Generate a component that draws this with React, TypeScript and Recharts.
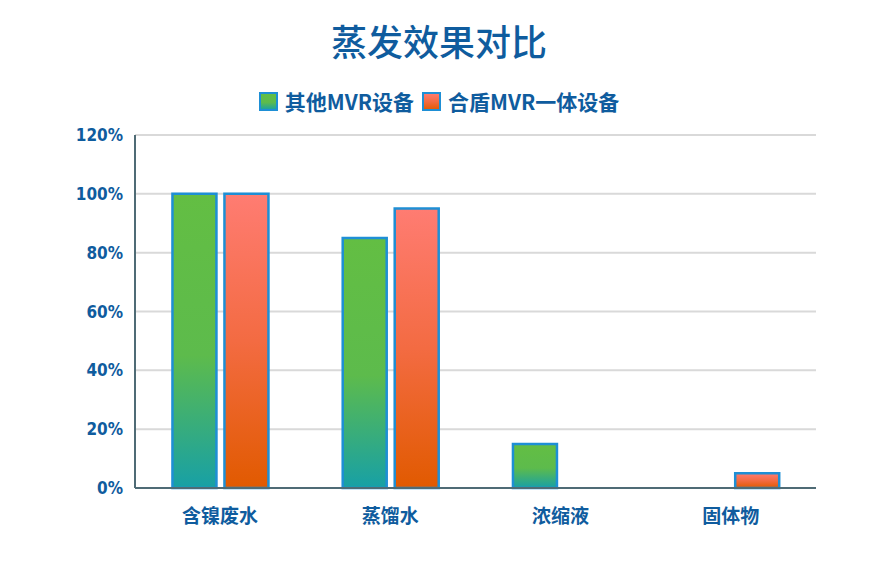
import { BarChart, Bar, XAxis, YAxis, CartesianGrid } from "recharts";

const categories = ["含镍废水", "蒸馏水", "浓缩液", "固体物"];
const otherMvr = [100, 85, 15, 0];
const hedunMvr = [100, 95, 0, 5];
const yTicks = [0, 20, 40, 60, 80, 100, 120];
const seriesNames = ["其他MVR设备", "合盾MVR一体设备"];

const BLUE_TEXT = "#0F5C9E";
const CJK = '"Noto Sans CJK SC", "Noto Sans", sans-serif';

const data = categories.map((c, i) => ({
  name: c,
  [seriesNames[0]]: otherMvr[i],
  [seriesNames[1]]: hedunMvr[i],
}));

// legend drawn by hand so the swatches get the same gradient + blue border
function ChartLegend() {
  const fills = ["url(#gGreen)", "url(#gOrange)"];
  return (
    <div
      style={{
        position: "absolute",
        top: 86,
        width: 878,
        display: "flex",
        justifyContent: "center",
        alignItems: "center",
        gap: 8,
      }}
    >
      {seriesNames.map((n, i) => (
        <div key={n} style={{ display: "flex", alignItems: "center" }}>
          <svg width={19} height={19} style={{ marginRight: 7 }}>
            <rect x={1} y={1} width={17} height={17} fill={fills[i]} stroke="#1E8FD5" strokeWidth={2} />
          </svg>
          <span style={{ fontFamily: CJK, fontWeight: 700, fontSize: 21, color: BLUE_TEXT }}>{n}</span>
        </div>
      ))}
    </div>
  );
}

export default function App() {
  return (
    <div style={{ position: "absolute", left: 0, top: 0, width: 878, height: 563, background: "#fff" }}>
      <div
        style={{
          position: "absolute",
          top: 14,
          width: 878,
          textAlign: "center",
          fontFamily: CJK,
          fontSize: 36,
          fontWeight: 500,
          color: BLUE_TEXT,
        }}
      >
        蒸发效果对比
      </div>
      <BarChart
        width={878}
        height={563}
        data={data}
        margin={{ top: 135, right: 62, left: 0, bottom: 45 }}
        barCategoryGap="22%"
        barGap={8}
      >
        <defs>
          <linearGradient id="gGreen" x1="0" y1="0" x2="0" y2="1">
            <stop offset="0" stopColor="#63BE43" />
            <stop offset="0.55" stopColor="#5DBB4C" />
            <stop offset="1" stopColor="#17A0A6" />
          </linearGradient>
          <linearGradient id="gOrange" x1="0" y1="0" x2="0" y2="1">
            <stop offset="0" stopColor="#FF7C72" />
            <stop offset="0.5" stopColor="#F36B42" />
            <stop offset="1" stopColor="#E15A00" />
          </linearGradient>
        </defs>
        <CartesianGrid vertical={false} stroke="#D9D9D9" strokeWidth={2} />
        <XAxis
          dataKey="name"
          height={30}
          axisLine={{ stroke: "#4F6B75", strokeWidth: 2 }}
          tickLine={false}
          tick={{ fill: BLUE_TEXT, fontSize: 19, fontWeight: 700, fontFamily: CJK }}
          dy={14}
        />
        <YAxis
          width={135}
          domain={[0, 120]}
          ticks={yTicks}
          tickFormatter={(v) => `${v}%`}
          axisLine={{ stroke: "#4F6B75", strokeWidth: 2 }}
          tickLine={false}
          tick={{ fill: BLUE_TEXT, fontSize: 17, fontWeight: 700, fontFamily: '"DejaVu Sans Condensed", "Liberation Sans", sans-serif' }}
          dx={-4}
        />
        <Bar dataKey={seriesNames[0]} fill="url(#gGreen)" stroke="#1E8FD5" strokeWidth={2.5} isAnimationActive={false} />
        <Bar dataKey={seriesNames[1]} fill="url(#gOrange)" stroke="#1E8FD5" strokeWidth={2.5} isAnimationActive={false} />
      </BarChart>
      <ChartLegend />
    </div>
  );
}
